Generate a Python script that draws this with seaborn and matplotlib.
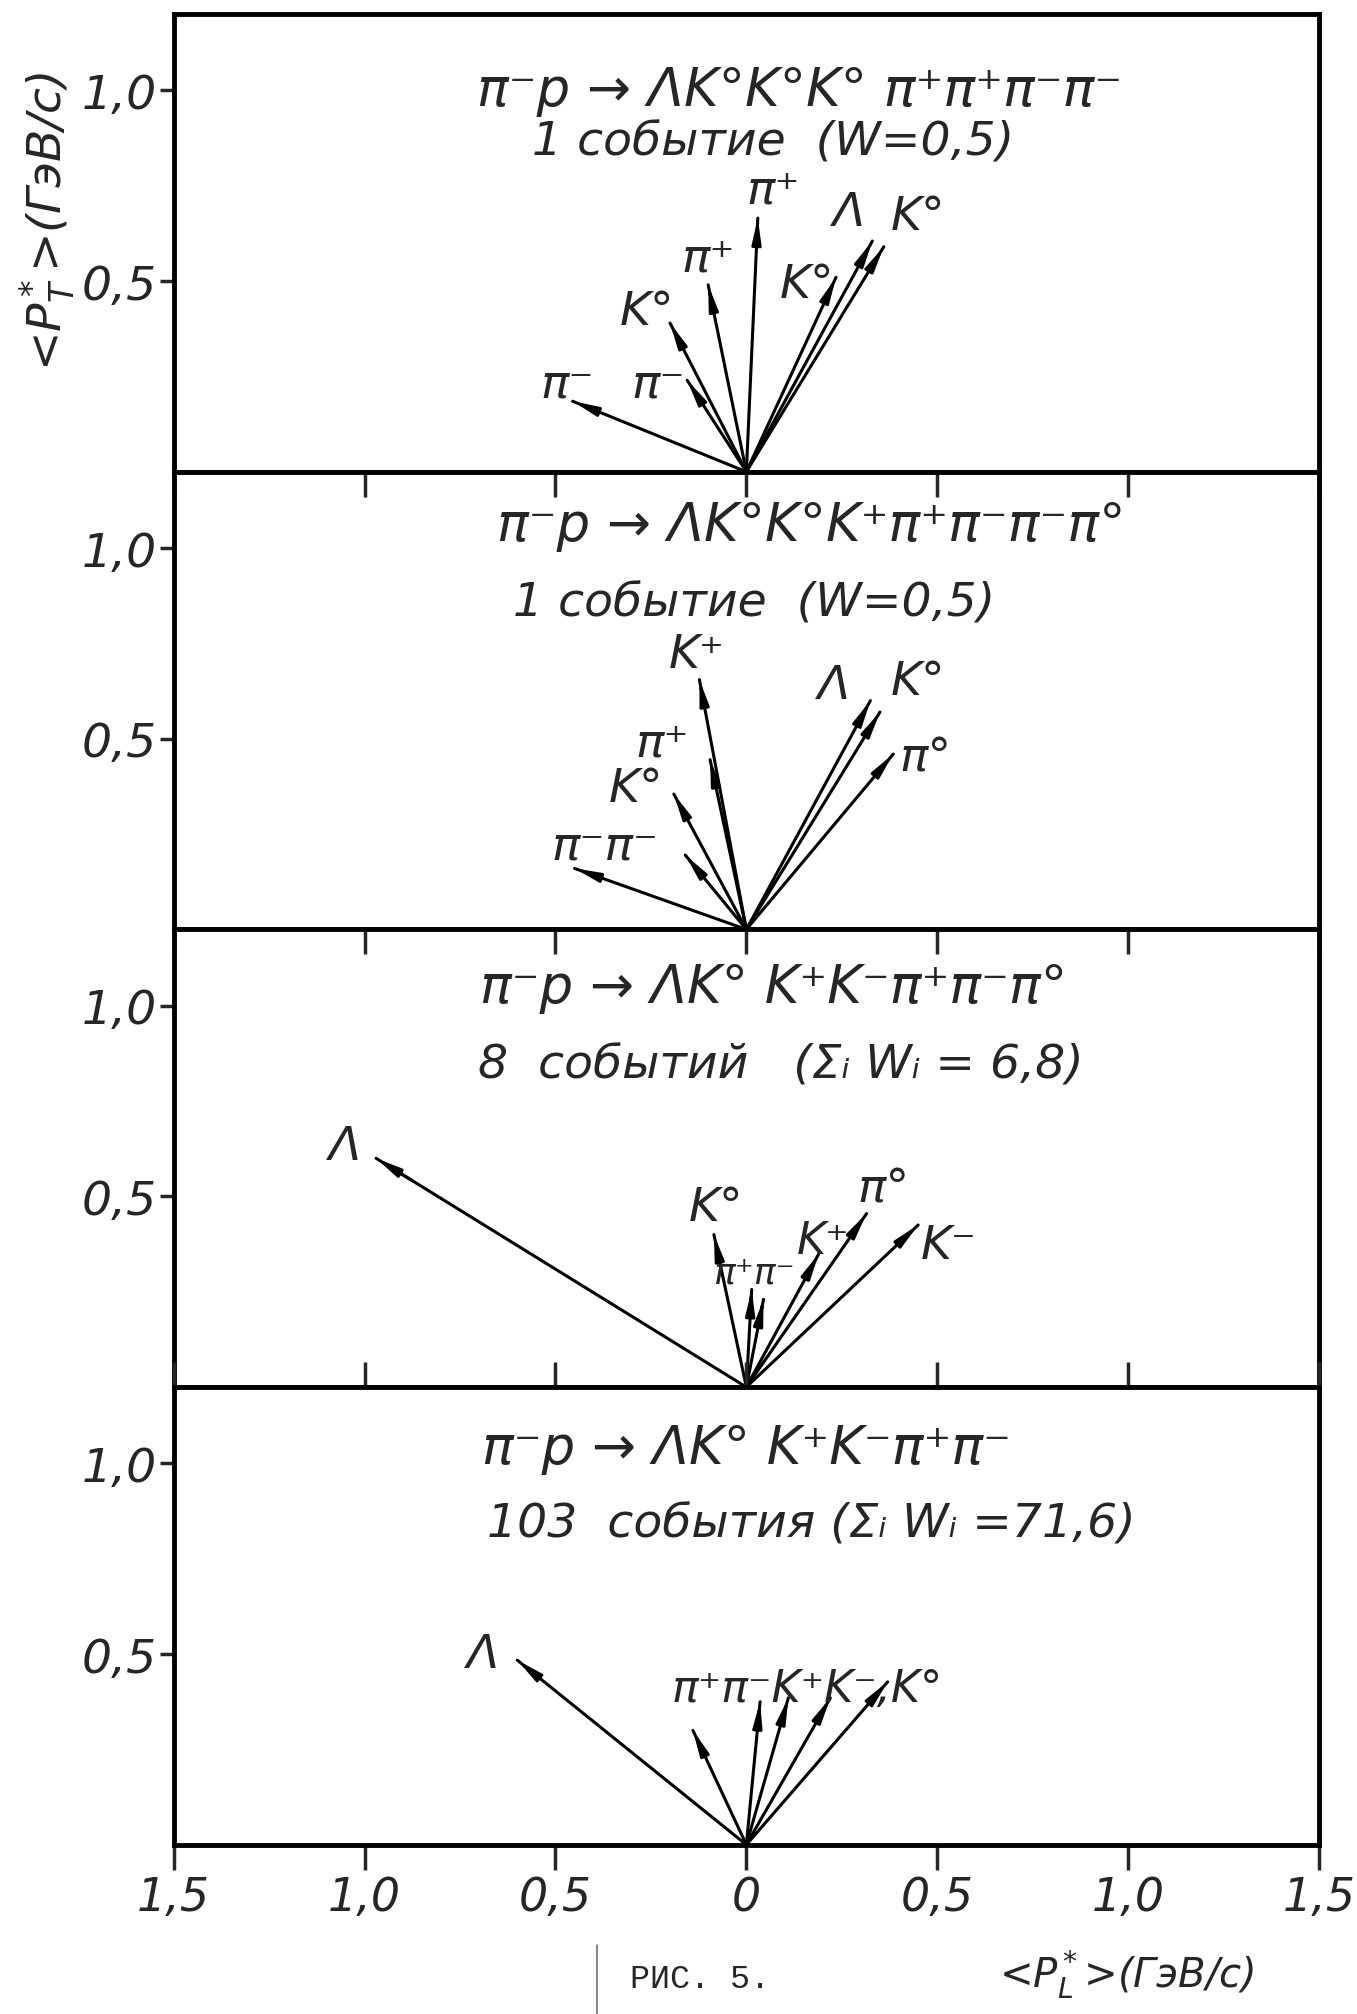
import matplotlib
matplotlib.use("Agg")
import matplotlib.pyplot as plt
from matplotlib.lines import Line2D
import seaborn as sns
import pandas as pd

sns.set_theme(style="white")
plt.rcParams["font.family"] = ["Liberation Sans Narrow", "DejaVu Sans Condensed", "DejaVu Sans"]
plt.rcParams["font.style"] = "italic"

# panel headers
titles = [
    "π⁻p → ΛK°K°K° π⁺π⁺π⁻π⁻",
    "π⁻p → ΛK°K°K⁺π⁺π⁻π⁻π°",
    "π⁻p → ΛK° K⁺K⁻π⁺π⁻π°",
    "π⁻p → ΛK° K⁺K⁻π⁺π⁻",
]
subtitles = [
    "1 событие  (W=0,5)",
    "1 событие  (W=0,5)",
    "8  событий   (Σᵢ Wᵢ = 6,8)",
    "103  события (Σᵢ Wᵢ =71,6)",
]

# <P_L*> and <P_T*> of each particle (ГэВ/c)
p1_names = ["π⁻", "π⁻", "K°", "π⁺", "π⁺", "K°", "Λ", "K°"]
p1_pl = [-0.455, -0.155, -0.20, -0.10, 0.03, 0.235, 0.33, 0.36]
p1_pt = [0.185, 0.24, 0.39, 0.49, 0.665, 0.51, 0.605, 0.59]

p2_names = ["π⁻", "π⁻", "K°", "π⁺", "K⁺", "Λ", "K°", "π°"]
p2_pl = [-0.45, -0.16, -0.19, -0.095, -0.123, 0.325, 0.35, 0.385]
p2_pt = [0.16, 0.195, 0.355, 0.445, 0.655, 0.60, 0.57, 0.46]

p3_names = ["Λ", "K°", "π⁺", "π⁻", "K⁺", "π°", "K⁻"]
p3_pl = [-0.97, -0.085, 0.014, 0.045, 0.19, 0.315, 0.45]
p3_pt = [0.60, 0.40, 0.256, 0.23, 0.35, 0.455, 0.425]

p4_names = ["Λ", "π⁺", "π⁻", "K⁺", "K⁻", "K°"]
p4_pl = [-0.60, -0.14, 0.036, 0.11, 0.22, 0.37]
p4_pt = [0.484, 0.30, 0.375, 0.385, 0.385, 0.427]

# where the particle names are written (text, x, y, size)
p1_text = [("π⁻", -0.47, 0.23, 34), ("π⁻", -0.23, 0.23, 34), ("K°", -0.26, 0.42, 34),
           ("π⁺", -0.10, 0.56, 34), ("π⁺", 0.07, 0.74, 34), ("K°", 0.16, 0.49, 34),
           ("Λ", 0.27, 0.68, 34), ("K°", 0.45, 0.67, 34)]
p2_text = [("π⁻π⁻", -0.37, 0.22, 34), ("K°", -0.29, 0.37, 34), ("π⁺", -0.22, 0.49, 34),
           ("K⁺", -0.13, 0.72, 34), ("Λ", 0.23, 0.64, 34), ("K°", 0.45, 0.65, 34),
           ("π°", 0.47, 0.45, 34)]
p3_text = [("Λ", -1.05, 0.63, 34), ("K°", -0.08, 0.47, 34), ("π⁺π⁻", 0.02, 0.30, 26),
           ("K⁺", 0.20, 0.385, 32), ("π°", 0.36, 0.52, 34), ("K⁻", 0.53, 0.37, 34)]
p4_text = [("Λ", -0.69, 0.50, 34), ("π⁺π⁻K⁺K⁻,K°", 0.16, 0.41, 32)]

panels = [
    (p1_names, p1_pl, p1_pt, p1_text),
    (p2_names, p2_pl, p2_pt, p2_text),
    (p3_names, p3_pl, p3_pt, p3_text),
    (p4_names, p4_pl, p4_pt, p4_text),
]
title_pos = [(0.14, 1.0), (0.17, 1.06), (0.07, 1.05), (0.0, 1.04)]
sub_pos = [(0.07, 0.865), (0.02, 0.855), (0.09, 0.845), (0.17, 0.84)]

xticks = [-1.5, -1.0, -0.5, 0, 0.5, 1.0, 1.5]
xticklabels = ["1,5", "1,0", "0,5", "0", "0,5", "1,0", "1,5"]

fig, axes = plt.subplots(4, 1, figsize=(13.57, 20.15), dpi=100, sharex=True)
fig.subplots_adjust(left=0.128, right=0.972, top=0.9925, bottom=0.084, hspace=0)

for i, (ax, (names, pl, pt, texts)) in enumerate(zip(axes, panels)):
    rows = []
    for k, (n, x, y) in enumerate(zip(names, pl, pt)):
        rows.append({"id": k, "x": 0.0, "y": 0.0})
        rows.append({"id": k, "x": x, "y": y})
    df = pd.DataFrame(rows)
    sns.lineplot(data=df, x="x", y="y", units="id", estimator=None, sort=False,
                 color="black", lw=2.2, ax=ax, legend=False)
    for x, y in zip(pl, pt):
        ax.annotate("", xy=(x, y), xytext=(x * 0.9, y * 0.9),
                    arrowprops=dict(arrowstyle="-|>,head_length=1.2,head_width=0.22",
                                    color="black", lw=2.2, shrinkA=0, shrinkB=0))
    for t, tx, ty, fs in texts:
        ax.text(tx, ty, t, ha="center", va="center", fontsize=fs)
    ax.text(*title_pos[i], titles[i], ha="center", va="center", fontsize=38)
    ax.text(*sub_pos[i], subtitles[i], ha="center", va="center", fontsize=34)

    ax.set_xlim(-1.5, 1.5)
    ax.set_ylim(0, 1.2)
    ax.set_yticks([0.5, 1.0])
    ax.set_yticklabels(["0,5", "1,0"], fontsize=34)
    ax.set_xlabel("")
    ax.set_ylabel("")
    for s in ax.spines.values():
        s.set_visible(True)
        s.set_linewidth(3.5)
        s.set_color("black")
    ax.tick_params(axis="y", left=True, direction="out", length=10, width=2.5, pad=2)
    if i > 0:
        ax.tick_params(axis="x", top=True, bottom=False, direction="in", length=18, width=2.5)
        ax.set_xticks(xticks)
    ax.grid(False)

last = axes[-1]
last.set_xticks(xticks)
last.set_xticklabels(xticklabels, fontsize=33)
last.tick_params(axis="x", bottom=True, labelbottom=True, direction="out", length=18, width=2.5, pad=4)

fig.text(0.035, 0.89, "<P$_T^*$>(ГэВ/c)", rotation=90, ha="center", va="center", fontsize=34)
fig.text(0.83, 0.02, "<P$_L^*$>(ГэВ/c)", ha="center", va="center", fontsize=29)
fig.text(0.516, 0.0175, "РИС. 5.", ha="center", va="center", fontsize=24,
         family="Liberation Mono", style="normal")
fig.add_artist(Line2D([0.44, 0.44], [0.0, 0.034], transform=fig.transFigure,
                      color="0.45", lw=1.2))

fig.savefig("out.png", dpi=100, facecolor="white")
